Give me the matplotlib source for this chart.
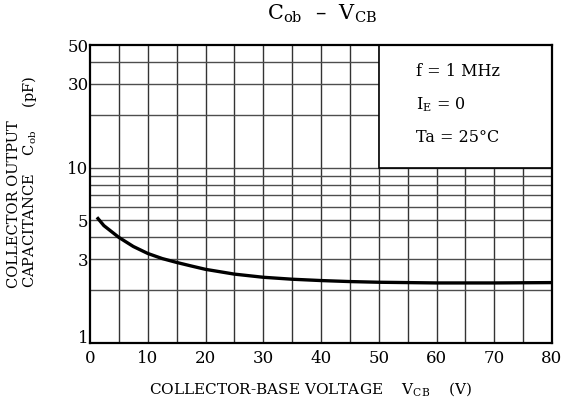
import numpy as np
import matplotlib.pyplot as plt
from matplotlib.patches import Rectangle
from matplotlib.ticker import FixedLocator, NullFormatter

plt.rcParams['font.family'] = 'DejaVu Serif'
plt.rcParams['mathtext.fontset'] = 'dejavuserif'

# Cob vs VCB curve (f = 1 MHz, IE = 0, Ta = 25 C)
vcb = [1.2, 2.4, 5, 7.5, 10, 12.5, 15, 17.5, 20, 25, 30, 35, 40, 45, 50, 60, 70, 80]
cob = [5.21, 4.67, 4.0, 3.55, 3.24, 3.03, 2.88, 2.75, 2.63, 2.47, 2.37, 2.31, 2.27,
       2.24, 2.22, 2.20, 2.20, 2.21]

x_ticks = [0, 10, 20, 30, 40, 50, 60, 70, 80]
y_ticks = [1, 3, 5, 10, 30, 50]
x_grid = [5, 10, 15, 20, 25, 30, 35, 40, 45, 50, 55, 60, 65, 70, 75]
y_grid = [2, 3, 4, 5, 6, 7, 8, 9, 10, 20, 30, 40]
conditions = ['f = 1 MHz', r'I$_\mathrm{E}$ = 0', 'Ta = 25°C']

W, H = 564, 407
fig = plt.figure(figsize=(W / 100, H / 100), dpi=100)
ax = fig.add_axes([90 / W, 1 - 343 / H, (552 - 90) / W, (343 - 45) / H])

ax.set_yscale('log')
ax.set_xlim(0, 80)
ax.set_ylim(1, 50)

for x in x_grid:
    ax.axvline(x, color='0.2', lw=1.0, zorder=1)
for y in y_grid:
    ax.axhline(y, color='0.3', lw=1.0, zorder=1)

# blank box for the test conditions
ax.add_patch(Rectangle((50, 10), 30, 40, facecolor='white', edgecolor='black',
                       lw=1.2, zorder=2))
for i, s in enumerate(conditions):
    ax.text(416 / W, 1 - (72 + i * 33) / H, s, transform=fig.transFigure,
            fontsize=11.5, va='center', ha='left', zorder=3)

ax.plot(vcb, cob, color='black', lw=2.4, solid_capstyle='butt', zorder=4)

ax.xaxis.set_major_locator(FixedLocator(x_ticks))
ax.yaxis.set_major_locator(FixedLocator(y_ticks))
ax.yaxis.set_minor_formatter(NullFormatter())
ax.set_xticklabels([str(v) for v in x_ticks])
# the "1" at the origin is drawn separately, a little higher
ax.set_yticklabels(['' if v == 1 else str(v) for v in y_ticks])
ax.annotate('1', xy=(0, 1), xytext=(-1, 3), textcoords='offset points',
            ha='right', va='center', fontsize=12)
ax.tick_params(which='both', length=0, labelsize=12)
ax.tick_params(axis='x', pad=5)
ax.tick_params(axis='y', pad=1)
for sp in ax.spines.values():
    sp.set_linewidth(1.6)
    sp.set_zorder(5)

fig.text(322 / W, 1 - 14 / H, r'C$_\mathrm{ob}$  –  V$_\mathrm{CB}$',
         fontsize=15, ha='center', va='center')
fig.text(311 / W, 1 - 389 / H,
         r'COLLECTOR-BASE VOLTAGE    V$_\mathrm{CB}$    (V)',
         fontsize=11, ha='center', va='center')
fig.text(14 / W, 1 - 288 / H, 'COLLECTOR OUTPUT', rotation=90,
         fontsize=10.5, ha='center', va='bottom')
fig.text(30 / W, 1 - 288 / H, r'CAPACITANCE    C$_\mathrm{ob}$     (pF)', rotation=90,
         fontsize=10.5, ha='center', va='bottom')

fig.savefig('out.png', dpi=100)
